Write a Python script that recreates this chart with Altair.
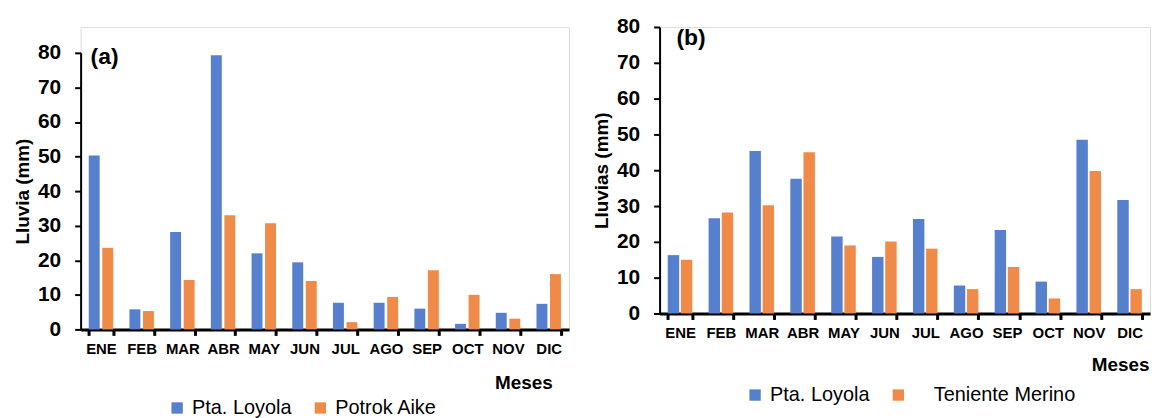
import altair as alt
import pandas as pd

months = ["ENE", "FEB", "MAR", "ABR", "MAY", "JUN", "JUL", "AGO", "SEP", "OCT", "NOV", "DIC"]
loyola_a = [50.3, 5.8, 28.2, 79.3, 22.0, 19.4, 7.7, 7.7, 6.0, 1.6, 4.8, 7.4]
potrok_aike = [23.6, 5.3, 14.3, 33.0, 30.7, 14.0, 2.1, 9.4, 17.1, 10.0, 3.1, 16.0]
loyola_b = [16.3, 26.6, 45.4, 37.6, 21.5, 15.8, 26.4, 7.8, 23.3, 8.9, 48.5, 31.7]
teniente_merino = [15.0, 28.2, 30.2, 45.0, 19.0, 20.1, 18.1, 6.8, 13.0, 4.2, 39.8, 6.8]
y_ticks = [0, 10, 20, 30, 40, 50, 60, 70, 80]

BLUE = "#5680CD"
ORANGE = "#F08A48"
FONT = "Liberation Sans"


def panel(s1, s2, name1, name2, letter, ytitle, w, h, yrange, legend_x, legend_y,
          label_expr, letter_x, letter_y, meses_x, meses_y, bar_w, bar_off):
    df = pd.DataFrame({
        "Mes": months * 2,
        "Estacion": [name1] * 12 + [name2] * 12,
        "Lluvia": s1 + s2,
    })
    x_enc = alt.X("Mes:N", sort=months,
                  scale=alt.Scale(paddingInner=0.4, paddingOuter=0.2),
                  axis=alt.Axis(title="Meses", labelAngle=0, tickBand="extent",
                                labelFont=FONT, labelFontSize=15, labelFontWeight="bold",
                                labelColor="black", labelPadding=6,
                                domainColor="black", domainWidth=3,
                                tickColor="black", tickWidth=3, tickSize=6,
                                titleFont=FONT, titleFontSize=19, titleFontWeight="bold",
                                titleColor="black", titleAnchor="start", titleAlign="left",
                                titleX=meses_x, titleY=meses_y, titleBaseline="middle"))
    y_enc = alt.Y("Lluvia:Q", scale=alt.Scale(domain=[0, 80], nice=False, range=yrange),
                  axis=alt.Axis(values=y_ticks, title=ytitle, grid=False,
                                labelFont=FONT, labelFontSize=21, labelFontWeight="bold",
                                labelColor="black", labelPadding=14,
                                domainColor="black", domainWidth=2,
                                tickColor="black", tickWidth=2, tickSize=6,
                                titleFont=FONT, titleFontSize=19, titleFontWeight="bold",
                                titleColor="black", titlePadding=5))
    c_enc = alt.Color("Estacion:N",
                      scale=alt.Scale(domain=[name1, name2], range=[BLUE, ORANGE]),
                      legend=alt.Legend(orient="none", legendX=legend_x, legendY=legend_y,
                                        direction="horizontal", title=None, columns=2,
                                        symbolType="square", symbolSize=130,
                                        symbolStrokeWidth=0, labelFont=FONT,
                                        labelFontSize=20, labelColor="black",
                                        labelOffset=5, columnPadding=18, padding=0,
                                        labelLimit=300, labelExpr=label_expr))
    base = alt.Chart(df)
    bars1 = base.transform_filter(alt.datum.Estacion == name1).mark_bar(
        width=bar_w, xOffset=-bar_off).encode(x=x_enc, y=y_enc, color=c_enc)
    bars2 = base.transform_filter(alt.datum.Estacion == name2).mark_bar(
        width=bar_w, xOffset=bar_off).encode(x=x_enc, y=y_enc, color=c_enc)
    letter_df = pd.DataFrame({"t": [letter]})
    txt = alt.Chart(letter_df).mark_text(
        font=FONT, fontSize=23, fontWeight="bold", color="black",
        align="left", baseline="middle"
    ).encode(text="t:N", x=alt.value(letter_x), y=alt.value(letter_y))
    return alt.layer(bars1, bars2, txt).properties(width=w, height=h)


pa = panel(loyola_a, potrok_aike, "Pta. Loyola", "Potrok Aike", "(a)", "Lluvia (mm)",
           491, 304, [304, 26], 87, 373, "datum.label", 10, 30, 416, 53, 11, 6.8)
pb = panel(loyola_b, teniente_merino, "Pta. Loyola", "Teniente Merino", "(b)", "Lluvias (mm)",
           493, 288, [288, 0], 86, 360,
           "datum.label == 'Teniente Merino' ? '\u2800\u00a0Teniente Merino' : datum.label",
           17, 11, 434, 51, 11.5, 6.6)

chart = alt.hconcat(pa, pb, spacing=22).resolve_scale(color="independent").configure_view(
    stroke=None
).configure(padding={"left": 5, "top": 6, "right": 0, "bottom": 0})

chart.save("out.html", embed_options={"renderer": "svg", "actions": False})
